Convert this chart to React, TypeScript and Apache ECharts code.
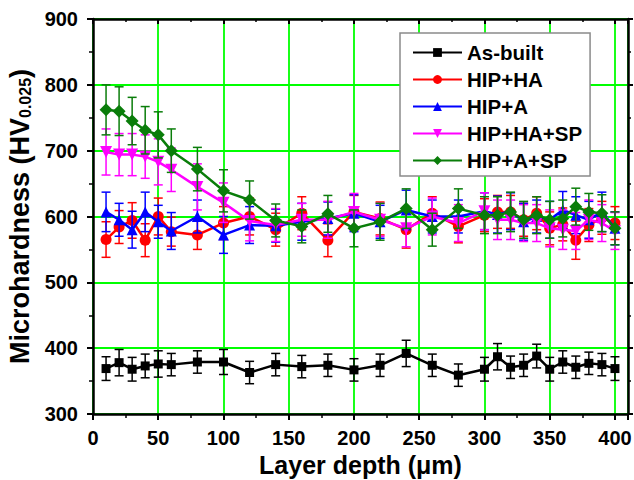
import React, { useEffect, useRef } from "react";
import * as echarts from "echarts";

const depths = [10, 20, 30, 40, 50, 60, 80, 100, 120, 140, 160, 180, 200, 220, 240, 260, 280, 300, 310, 320, 330, 340, 350, 360, 370, 380, 390, 400];

const asBuilt = [369, 378, 368, 373, 376, 375, 379, 379, 363, 375, 372, 374, 367, 374, 392, 374, 359, 368, 387, 371, 374, 388, 368, 379, 371, 377, 375, 369];
const asBuiltErr = [18, 20, 18, 18, 20, 17, 17, 19, 17, 17, 17, 17, 17, 17, 20, 17, 17, 18, 20, 17, 17, 18, 18, 17, 17, 17, 17, 18];

const hipHA = [565, 584, 594, 564, 600, 577, 572, 590, 600, 580, 605, 564, 607, 597, 580, 605, 585, 602, 607, 607, 595, 605, 582, 588, 564, 587, 598, 590];
const hipHAErr = [27, 25, 27, 25, 28, 22, 22, 25, 28, 25, 25, 25, 25, 25, 28, 25, 25, 25, 25, 25, 25, 25, 25, 25, 29, 25, 25, 25];

const hipA = [607, 595, 580, 607, 592, 578, 600, 572, 587, 586, 592, 597, 605, 592, 610, 600, 600, 608, 603, 608, 592, 600, 595, 610, 602, 595, 607, 582];
const hipAErr = [30, 25, 28, 30, 25, 28, 25, 28, 28, 25, 28, 25, 28, 25, 30, 25, 25, 28, 28, 28, 28, 25, 28, 28, 28, 28, 30, 25];

const hipHASP = [698, 694, 694, 691, 683, 671, 645, 621, 593, 587, 595, 595, 607, 595, 582, 600, 590, 608, 595, 595, 590, 590, 582, 580, 578, 595, 590, 578];
const hipHASPErr = [35, 32, 32, 33, 35, 33, 35, 30, 30, 25, 25, 28, 28, 25, 28, 28, 28, 28, 30, 30, 28, 28, 28, 30, 28, 30, 28, 28];

const hipASP = [762, 760, 745, 731, 724, 700, 672, 639, 625, 594, 585, 604, 582, 592, 612, 580, 612, 602, 602, 607, 595, 602, 595, 597, 615, 607, 605, 582];
const hipASPErr = [38, 37, 36, 36, 35, 33, 33, 32, 29, 25, 25, 28, 28, 28, 30, 25, 30, 28, 28, 30, 28, 28, 28, 28, 28, 28, 28, 25];

const seriesNames = ["As-built", "HIP+HA", "HIP+A", "HIP+HA+SP", "HIP+A+SP"];
const seriesColors = ["#000000", "#ff0000", "#0000ff", "#ff00ff", "#0a7d0a"];

const FONT = "'Liberation Sans', Arial, sans-serif";

export default function App() {
  const ref = useRef<HTMLDivElement>(null);
  useEffect(() => {
    if (!ref.current) return;
    const chart = echarts.init(ref.current, null, { renderer: "svg" });

    const defs = [
      { ys: asBuilt, errs: asBuiltErr, symbol: "rect", size: 9, rotate: 0 },
      { ys: hipHA, errs: hipHAErr, symbol: "circle", size: 11, rotate: 0 },
      { ys: hipA, errs: hipAErr, symbol: "triangle", size: 11, rotate: 0 },
      { ys: hipHASP, errs: hipHASPErr, symbol: "triangle", size: 12, rotate: 180 },
      { ys: hipASP, errs: hipASPErr, symbol: "diamond", size: 13, rotate: 0 },
    ];

    const series: any[] = [];
    defs.forEach((d, k) => {
      const color = seriesColors[k];
      series.push({
        type: "custom",
        name: seriesNames[k] + " error",
        xAxisIndex: 0,
        yAxisIndex: 0,
        data: depths.map((x, i) => [x, d.ys[i] - d.errs[i], d.ys[i] + d.errs[i]]),
        renderItem: (_params: any, api: any) => {
          const x = api.value(0);
          const top = api.coord([x, api.value(2)]);
          const bot = api.coord([x, api.value(1)]);
          const w = 4.5;
          const st = { stroke: color, lineWidth: 1.5 };
          return {
            type: "group",
            children: [
              { type: "line", shape: { x1: top[0], y1: top[1], x2: bot[0], y2: bot[1] }, style: st },
              { type: "line", shape: { x1: top[0] - w, y1: top[1], x2: top[0] + w, y2: top[1] }, style: st },
              { type: "line", shape: { x1: bot[0] - w, y1: bot[1], x2: bot[0] + w, y2: bot[1] }, style: st },
            ],
          };
        },
        z: 2 + k * 2,
        silent: true,
      });
      series.push({
        type: "line",
        name: seriesNames[k],
        xAxisIndex: 0,
        yAxisIndex: 0,
        data: depths.map((x, i) => [x, d.ys[i]]),
        symbol: d.symbol,
        symbolSize: d.size,
        symbolRotate: d.rotate,
        showAllSymbol: true,
        lineStyle: { color, width: 2.5 },
        itemStyle: { color, borderWidth: 0 },
        z: 3 + k * 2,
      });
    });

    const axisLine = { show: true, onZero: false, lineStyle: { color: "#000", width: 2.5 } };

    chart.setOption({
      animation: false,
      backgroundColor: "#fff",
      grid: { left: 93, right: 6, top: 19, bottom: 66, containLabel: false, outerBoundsMode: "none" },
      legend: {
        data: seriesNames,
        orient: "vertical",
        left: 400,
        top: 33,
        itemWidth: 49,
        itemHeight: 11,
        itemGap: 6,
        padding: [9, 8, 5, 12],
        backgroundColor: "#fff",
        borderColor: "#8a8a8a",
        borderWidth: 1.5,
        textStyle: { fontFamily: FONT, fontWeight: "bold", fontSize: 20.5, color: "#000" },
      },
      xAxis: [
        {
          type: "value",
          min: 0,
          max: 410,
          interval: 50,
          position: "bottom",
          name: "Layer depth (\u03bcm)",
          nameLocation: "middle",
          nameGap: 30,
          nameTextStyle: { fontFamily: FONT, fontWeight: "bold", fontSize: 25, color: "#000" },
          axisLine,
          axisTick: { show: true, inside: false, length: 6, lineStyle: { color: "#000", width: 2 } },
          minorTick: { show: true, splitNumber: 2, length: 4, lineStyle: { color: "#000", width: 1.5 } },
          axisLabel: { showMaxLabel: false, margin: 14, fontFamily: FONT, fontWeight: "bold", fontSize: 20, color: "#000" },
          splitLine: { show: true, lineStyle: { color: "#00ff00", width: 1.8 } },
        },
        {
          type: "value",
          min: 0,
          max: 410,
          interval: 50,
          position: "top",
          axisLine,
          axisTick: { show: true, inside: true, length: 5, lineStyle: { color: "#000", width: 2 } },
          minorTick: { show: true, splitNumber: 2, length: 3, lineStyle: { color: "#000", width: 1.5 } },
          axisLabel: { show: false },
          splitLine: { show: false },
        },
      ],
      yAxis: [
        {
          type: "value",
          min: 300,
          max: 900,
          interval: 100,
          position: "left",
          name: "{a|Microhardness (HV}{b|0.025}{a|)}",
          nameLocation: "middle",
          nameRotate: 90,
          nameGap: 52,
          nameTextStyle: {
            rich: {
              a: { fontFamily: FONT, fontWeight: "bold", fontSize: 27, color: "#000" },
              b: { fontFamily: FONT, fontWeight: "bold", fontSize: 16, color: "#000", padding: [11, 0, 0, 0] },
            },
          },
          axisLine,
          axisTick: { show: true, inside: false, length: 6, lineStyle: { color: "#000", width: 2 } },
          minorTick: { show: true, splitNumber: 2, length: 4, lineStyle: { color: "#000", width: 1.5 } },
          axisLabel: { margin: 15, fontFamily: FONT, fontWeight: "bold", fontSize: 20, color: "#000" },
          splitLine: { show: true, lineStyle: { color: "#00ff00", width: 1.8 } },
        },
        {
          type: "value",
          min: 300,
          max: 900,
          interval: 100,
          position: "right",
          axisLine,
          axisTick: { show: true, inside: false, length: 5, lineStyle: { color: "#000", width: 2 } },
          minorTick: { show: true, splitNumber: 2, length: 3, lineStyle: { color: "#000", width: 1.5 } },
          axisLabel: { show: false },
          splitLine: { show: false },
        },
      ],
      series,
    });
    return () => chart.dispose();
  }, []);
  return <div ref={ref} style={{ position: "fixed", left: 0, top: 0, width: 634, height: 480 }} />;
}
